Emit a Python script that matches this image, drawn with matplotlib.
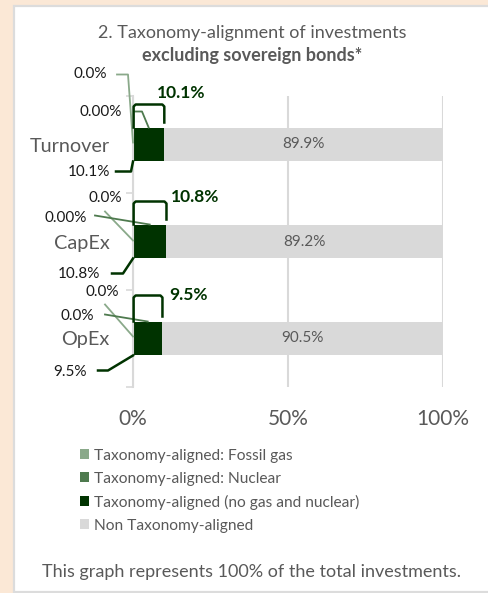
import matplotlib
matplotlib.use('Agg')
from matplotlib import pyplot as plt
from matplotlib.patches import Rectangle
import numpy as np

categories = ["Turnover", "CapEx", "OpEx"]
fossil_gas = [0.0, 0.0, 0.0]
nuclear = [0.0, 0.0, 0.0]
aligned = [10.1, 10.8, 9.5]
non_aligned = [89.9, 89.2, 90.5]
fossil_labels = ["0.0%", "0.0%", "0.0%"]
nuclear_labels = ["0.00%", "0.00%", "0.0%"]
aligned_labels = ["10.1%", "10.8%", "9.5%"]
non_labels = ["89.9%", "89.2%", "90.5%"]
x_ticks = [0, 50, 100]
x_ticklabels = ["0%", "50%", "100%"]
series_names = ["Taxonomy-aligned: Fossil gas", "Taxonomy-aligned: Nuclear",
                "Taxonomy-aligned (no gas and nuclear)", "Non Taxonomy-aligned"]

c_fossil = "#8aa98a"
c_nuclear = "#4e7a4e"
c_aligned = "#003300"
c_non = "#d9d9d9"
c_text = "#595959"
c_grid = "#d9d9d9"

# label layout per bar, in pixel offsets from the bar centre (x from bar start)
fossil_pos = [(-26, -70), (-11, -44), (-14, -46)]
fossil_lines = [[(-16, -70), (-5, -70), (0, -2)],
                [(-28, -30), (0, -1)],
                [(-28, -34), (0, -2)]]
nuclear_pos = [(-11, -32), (-46, -24), (-39, -23)]
nuclear_start = [[(2, -33), (9, -33)], [(-38, -26)], [(-28, -24)]]
bottom_pos = [(-23, 28), (-33, 32), (-46, 33)]
bottom_lines = [[(-17, 27), (-2, 27)], [(-21, 32), (-10, 32)], [(-35, 32), (-25, 32)]]
bracket_h = [40, 40, 43]
bold_dx = [-7, 4, 7]
bold_dy = [-51, -44, -43]

plt.rcParams['font.family'] = ['Lato', 'DejaVu Sans']

W, H = 488, 593
fig = plt.figure(figsize=(W / 100, H / 100), dpi=100)
fig.patch.set_facecolor("#fbe8d6")
fig.patches.append(Rectangle((14 / W, 1 / H), 1, (H - 7) / H, transform=fig.transFigure,
                             facecolor="white", edgecolor="#dcdcdc", linewidth=1.6, zorder=-5))

ax_l, ax_r, ax_t, ax_b = 133, 443, 96, 387
ax = fig.add_axes([ax_l / W, 1 - ax_b / H, (ax_r - ax_l) / W, (ax_b - ax_t) / H])
ax.set_zorder(2)
ax.set_facecolor("none")
sx = (ax_r - ax_l) / 100.0
sy = (ax_b - ax_t) / 3.0

y = np.arange(len(categories))
h = 0.35
left = np.zeros(len(categories))
bars = []
for vals, col in zip([fossil_gas, nuclear, aligned, non_aligned],
                     [c_fossil, c_nuclear, c_aligned, c_non]):
    bars.append(ax.barh(y, vals, left=left, height=h, color=col, zorder=2))
    left = left + np.array(vals)

ax.set_xlim(0, 100)
ax.set_ylim(2.5, -0.5)
ax.set_yticks(y)
ax.set_yticklabels(categories, fontsize=14.3, color=c_text)
ax.set_yticks([-0.5, 0.5, 1.5, 2.5], minor=True)
ax.tick_params(axis='y', which='major', length=0, pad=17)
ax.tick_params(axis='y', which='minor', length=5, color=c_grid, width=1.2)
ax.set_xticks(x_ticks)
ax.set_xticklabels(x_ticklabels, fontsize=15, color=c_text)
ax.tick_params(axis='x', length=0, pad=16)
ax.grid(axis='x', color=c_grid, linewidth=1.5, zorder=0)
for s in ["top", "right", "bottom"]:
    ax.spines[s].set_visible(False)
ax.spines["left"].set_color(c_grid)
ax.spines["left"].set_linewidth(1.5)


def pt(i, dx, dy):
    return dx / sx, i + dy / sy


for i in range(len(categories)):
    start = fossil_gas[i] + nuclear[i]
    end = start + aligned[i]
    ax.text(end + non_aligned[i] / 2, i, non_labels[i], ha="center", va="center",
            fontsize=11, color=c_text, zorder=3)

    # fossil gas label and leader
    tx, ty = pt(i, *fossil_pos[i])
    ax.text(tx, ty, fossil_labels[i], ha="right", va="center", fontsize=11, color="#1a1a1a", clip_on=False)
    xs, ys = zip(*[pt(i, *p) for p in fossil_lines[i]])
    ax.plot(xs, ys, color=c_fossil, lw=1.3, clip_on=False, zorder=4)

    # nuclear label and leader
    tx, ty = pt(i, *nuclear_pos[i])
    ax.text(tx, ty, nuclear_labels[i], ha="right", va="center", fontsize=11, color="#1a1a1a", clip_on=False)
    pts = [pt(i, *p) for p in nuclear_start[i]] + [(start + aligned[i] / 2, i - h / 2)]
    xs, ys = zip(*pts)
    ax.plot(xs, ys, color=c_nuclear, lw=1.3, clip_on=False, zorder=4)

    # bracket over the aligned segment, bold label above
    top = i - h / 2
    yb = i - bracket_h[i] / sy
    r = 2 / sy
    rx = 2 / sx
    ax.plot([start + 0.2, start + 0.2, start + 0.2 + rx, end - rx, end, end],
            [top, yb + r, yb, yb, yb + r, top - 5 / sy],
            color=c_aligned, lw=1.8, clip_on=False, zorder=4)
    ax.text(end + bold_dx[i] / sx, i + bold_dy[i] / sy, aligned_labels[i], ha="left", va="center",
            fontsize=12.5, fontweight="bold", color=c_aligned, clip_on=False)

    # aligned label below
    tx, ty = pt(i, *bottom_pos[i])
    ax.text(tx, ty, aligned_labels[i], ha="right", va="center", fontsize=11, color="#1a1a1a", clip_on=False)
    pts = [pt(i, *p) for p in bottom_lines[i]] + [(start, i + h / 2)]
    xs, ys = zip(*pts)
    ax.plot(xs, ys, color=c_aligned, lw=1.8, clip_on=False, zorder=4)

fig.text(252 / W, 1 - 33 / H, "2. Taxonomy-alignment of investments", ha="center", va="center",
         fontsize=13, color=c_text)
fig.text(252 / W, 1 - 55 / H, "excluding sovereign bonds*", ha="center", va="center",
         fontsize=13, fontweight="bold", color=c_text)

handles = [b.patches[0] for b in bars]
fig.legend(handles, series_names, loc="upper left", bbox_to_anchor=(72 / W, 1 - 441 / H),
           frameon=False, fontsize=11.2, labelcolor=c_text, handlelength=0.6, handleheight=0.6,
           handletextpad=0.3, labelspacing=0.58, borderpad=0)

fig.text(252 / W, 1 - 572 / H, "This graph represents 100% of the total investments.",
         ha="center", va="center", fontsize=13, color=c_text)

fig.savefig("out.png", dpi=100, facecolor=fig.get_facecolor())
plt.close(fig)
